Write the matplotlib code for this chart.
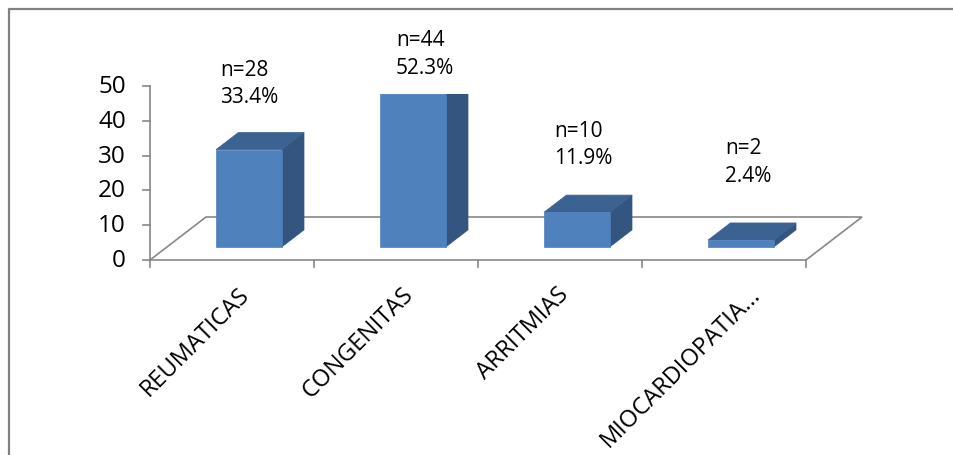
import matplotlib
matplotlib.use("Agg")
import matplotlib.pyplot as plt
from matplotlib.patches import Polygon, Rectangle
from matplotlib.lines import Line2D

# ---- data -------------------------------------------------------------
categories = ["REUMATICAS", "CONGENITAS", "ARRITMIAS", "MIOCARDIOPATIA..."]
counts = [28, 44, 10, 2]
percents = ["33.4%", "52.3%", "11.9%", "2.4%"]
y_ticks = [0, 10, 20, 30, 40, 50]

# ---- layout -----------------------------------------------------------
W, H = 954, 456
X0_PX, PX_PER_CAT = 150, 164        # left end of the category axis, width of one category
Y0_PX, PX_PER_UNIT = 261, 3.48      # baseline of the value axis, pixels per unit
DEPTH_X = 56 / PX_PER_CAT           # oblique depth of the floor (data units)
DEPTH_Y = 43 / PX_PER_UNIT
BAR_FRONT, BAR_BACK = 0.30, 0.70    # bar placement within the floor depth
BAR_WIDTH = 0.40
PLOT_TOP = (Y0_PX - 95) / PX_PER_UNIT   # 3-D region clip height

# label placement relative to each bar: left edge (category units), centre lift (value units)
label_shift = [(-0.073, 22.9), (0.0, 15.3), (-0.037, 23.3), (0.006, 26.4)]
# end point of each rotated category label relative to the category centre (category units)
cat_label_dx = [0.085, 0.085, 0.03, 0.2]

FRONT = "#4F81BD"
TOP = "#3C6291"
SIDE = "#33557F"
GRID = "#878787"
FONT = "Open Sans"

fig = plt.figure(figsize=(W / 100, H / 100), dpi=100)
ax = fig.add_axes([0, 0, 1, 1])
ax.set_xlim(-X0_PX / PX_PER_CAT, (W - X0_PX) / PX_PER_CAT)
ax.set_ylim((Y0_PX - H) / PX_PER_UNIT, Y0_PX / PX_PER_UNIT)
ax.axis("off")

n = len(categories)
lw = 1.2

# floor outline (back and sides drawn behind bars)
ax.add_line(Line2D([0, DEPTH_X, n + DEPTH_X, n], [0, DEPTH_Y, DEPTH_Y, 0],
                   color=GRID, lw=lw, zorder=1, solid_joinstyle="miter"))
# front edge / category axis
ax.add_line(Line2D([0, n], [0, 0], color=GRID, lw=lw, zorder=3))
tick_len_y = 7 / PX_PER_UNIT
for k in range(n + 1):
    ax.add_line(Line2D([k, k], [0, -tick_len_y], color=GRID, lw=lw, zorder=3))

# value axis
ax.add_line(Line2D([0, 0], [0, y_ticks[-1]], color=GRID, lw=lw, zorder=3))
tick_len_x = 7 / PX_PER_CAT
for t in y_ticks:
    ax.add_line(Line2D([-tick_len_x, 0], [t, t], color=GRID, lw=lw, zorder=3))
    ax.text(-24 / PX_PER_CAT, t, str(t), ha="right", va="center",
            fontsize=17.5, family=FONT, color="black")

# 3-D bars
clip = Rectangle((-10, -100), 100, 100 + PLOT_TOP, transform=ax.transData)
ox = (BAR_BACK - BAR_FRONT) * DEPTH_X
oy = (BAR_BACK - BAR_FRONT) * DEPTH_Y
for i, v in enumerate(counts):
    xl = i + 0.5 - BAR_WIDTH / 2 + BAR_FRONT * DEPTH_X
    xr = xl + BAR_WIDTH
    yb = BAR_FRONT * DEPTH_Y
    yt = yb + v
    faces = [
        (Polygon([(xr, yb), (xr + ox, yb + oy), (xr + ox, yt + oy), (xr, yt)],
                 closed=True), SIDE),
        (Polygon([(xl, yt), (xr, yt), (xr + ox, yt + oy), (xl + ox, yt + oy)],
                 closed=True), TOP),
        (Polygon([(xl, yb), (xr, yb), (xr, yt), (xl, yt)], closed=True), FRONT),
    ]
    for poly, col in faces:
        poly.set_facecolor(col)
        poly.set_edgecolor(col)
        poly.set_linewidth(0.5)
        poly.set_zorder(2)
        ax.add_patch(poly)
        poly.set_clip_path(clip)

    dx, dy = label_shift[i]
    ax.text(i + 0.5 + dx, v + dy, f"n={v}\n{percents[i]}",
            ha="left", va="center", multialignment="left",
            fontsize=15, family=FONT, color="black", linespacing=1.42)

# rotated category labels
for i, name in enumerate(categories):
    ax.text(i + 0.5 + cat_label_dx[i], -8.6, name, rotation=45, rotation_mode="anchor",
            ha="right", va="center", fontsize=17, family=FONT, color="black")

# chart frame
fy = 1 - 9.5 / H
fx = 9 / W
fig.add_artist(Line2D([fx, fx, 1.0], [0.0, fy, fy], transform=fig.transFigure,
                      color="#808080", lw=1.6))

fig.savefig("out.png", dpi=100)
